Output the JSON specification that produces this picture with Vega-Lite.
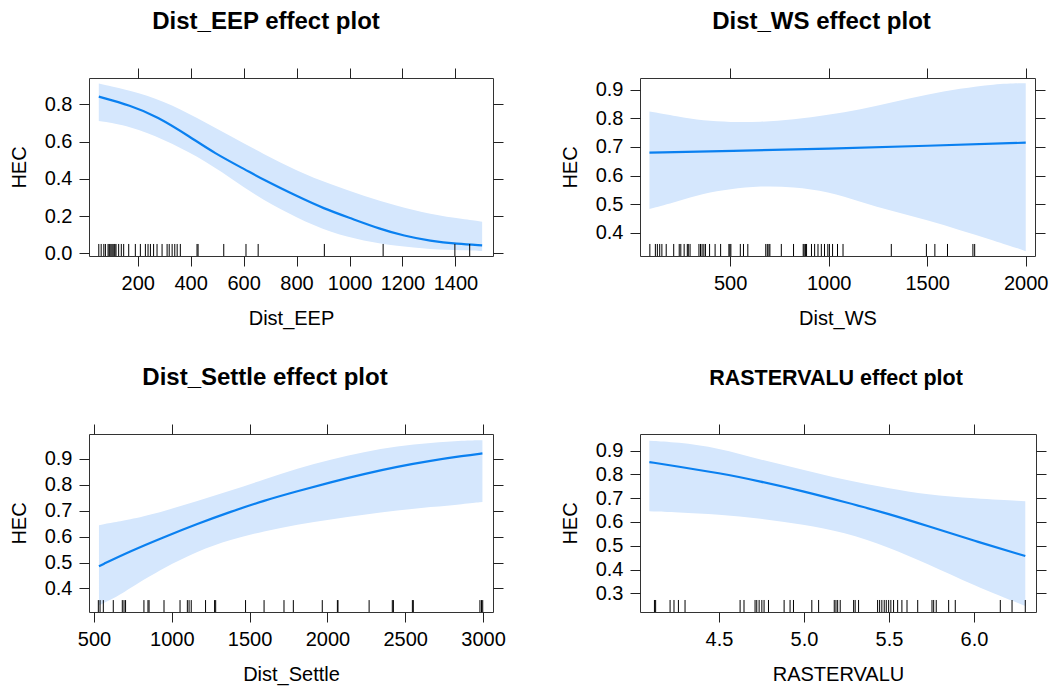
{
  "$schema": "https://vega.github.io/schema/vega-lite/v6.json",
  "padding": {"left": 8, "top": 9, "right": 5, "bottom": 5},
  "columns": 2,
  "spacing": {"row": 178, "column": 147},
  "bounds": "flush",
  "align": "each",
  "config": {
    "font": "Liberation Sans",
    "view": {"stroke": "#333333", "strokeWidth": 1},
    "axis": {
      "labelFont": "Liberation Sans", "labelFontSize": 20, "labelColor": "#000000",
      "titleFont": "Liberation Sans", "titleFontSize": 20, "titleFontWeight": "normal", "titleColor": "#000000",
      "tickColor": "#222222", "tickSize": 10, "tickWidth": 1,
      "domain": false, "grid": false, "labelPadding": 7, "titlePadding": 15,
      "labelFlush": false, "labelOverlap": false
    },
    "title": {"font": "Liberation Sans", "fontSize": 24, "fontWeight": "bold", "color": "#000000", "offset": 34}
  },
  "datasets": {
    "eep_band": [
      {"Dist_EEP": 53, "lower": 0.710, "upper": 0.911},
      {"Dist_EEP": 172, "lower": 0.683, "upper": 0.875},
      {"Dist_EEP": 298, "lower": 0.612, "upper": 0.818},
      {"Dist_EEP": 424, "lower": 0.522, "upper": 0.728},
      {"Dist_EEP": 550, "lower": 0.406, "upper": 0.630},
      {"Dist_EEP": 676, "lower": 0.281, "upper": 0.532},
      {"Dist_EEP": 802, "lower": 0.191, "upper": 0.442},
      {"Dist_EEP": 928, "lower": 0.111, "upper": 0.370},
      {"Dist_EEP": 1054, "lower": 0.066, "upper": 0.308},
      {"Dist_EEP": 1180, "lower": 0.039, "upper": 0.254},
      {"Dist_EEP": 1305, "lower": 0.021, "upper": 0.209},
      {"Dist_EEP": 1432, "lower": 0.016, "upper": 0.183},
      {"Dist_EEP": 1501, "lower": 0.012, "upper": 0.170}
    ],
    "eep_fit": [
      {"Dist_EEP": 53, "HEC": 0.841},
      {"Dist_EEP": 172, "HEC": 0.794},
      {"Dist_EEP": 273, "HEC": 0.735},
      {"Dist_EEP": 399, "HEC": 0.624},
      {"Dist_EEP": 487, "HEC": 0.540},
      {"Dist_EEP": 613, "HEC": 0.444},
      {"Dist_EEP": 676, "HEC": 0.394},
      {"Dist_EEP": 802, "HEC": 0.306},
      {"Dist_EEP": 903, "HEC": 0.240},
      {"Dist_EEP": 1003, "HEC": 0.189},
      {"Dist_EEP": 1116, "HEC": 0.130},
      {"Dist_EEP": 1205, "HEC": 0.094},
      {"Dist_EEP": 1305, "HEC": 0.066},
      {"Dist_EEP": 1406, "HEC": 0.050},
      {"Dist_EEP": 1501, "HEC": 0.043}
    ],
    "eep_rug": [
      {"Dist_EEP": 53}, {"Dist_EEP": 62}, {"Dist_EEP": 72}, {"Dist_EEP": 78}, {"Dist_EEP": 88},
      {"Dist_EEP": 92}, {"Dist_EEP": 95}, {"Dist_EEP": 99}, {"Dist_EEP": 103}, {"Dist_EEP": 107},
      {"Dist_EEP": 111}, {"Dist_EEP": 114}, {"Dist_EEP": 118}, {"Dist_EEP": 128}, {"Dist_EEP": 138},
      {"Dist_EEP": 147}, {"Dist_EEP": 166}, {"Dist_EEP": 191}, {"Dist_EEP": 210}, {"Dist_EEP": 229},
      {"Dist_EEP": 239}, {"Dist_EEP": 248}, {"Dist_EEP": 260}, {"Dist_EEP": 273}, {"Dist_EEP": 292},
      {"Dist_EEP": 311}, {"Dist_EEP": 319}, {"Dist_EEP": 330}, {"Dist_EEP": 340}, {"Dist_EEP": 349},
      {"Dist_EEP": 361}, {"Dist_EEP": 424}, {"Dist_EEP": 428}, {"Dist_EEP": 525}, {"Dist_EEP": 609},
      {"Dist_EEP": 655}, {"Dist_EEP": 905}, {"Dist_EEP": 1127}, {"Dist_EEP": 1398}, {"Dist_EEP": 1454}
    ],
    "ws_band": [
      {"Dist_WS": 91, "lower": 0.483, "upper": 0.824},
      {"Dist_WS": 230, "lower": 0.509, "upper": 0.807},
      {"Dist_WS": 365, "lower": 0.538, "upper": 0.791},
      {"Dist_WS": 500, "lower": 0.553, "upper": 0.787},
      {"Dist_WS": 652, "lower": 0.564, "upper": 0.787},
      {"Dist_WS": 822, "lower": 0.561, "upper": 0.795},
      {"Dist_WS": 999, "lower": 0.544, "upper": 0.812},
      {"Dist_WS": 1160, "lower": 0.509, "upper": 0.830},
      {"Dist_WS": 1329, "lower": 0.474, "upper": 0.857},
      {"Dist_WS": 1500, "lower": 0.445, "upper": 0.883},
      {"Dist_WS": 1667, "lower": 0.409, "upper": 0.904},
      {"Dist_WS": 1836, "lower": 0.374, "upper": 0.920},
      {"Dist_WS": 2000, "lower": 0.336, "upper": 0.923}
    ],
    "ws_fit": [
      {"Dist_WS": 91, "HEC": 0.680},
      {"Dist_WS": 500, "HEC": 0.686},
      {"Dist_WS": 1000, "HEC": 0.694},
      {"Dist_WS": 1500, "HEC": 0.704},
      {"Dist_WS": 2000, "HEC": 0.715}
    ],
    "ws_rug": [
      {"Dist_WS": 93}, {"Dist_WS": 121}, {"Dist_WS": 131}, {"Dist_WS": 143}, {"Dist_WS": 154},
      {"Dist_WS": 176}, {"Dist_WS": 214}, {"Dist_WS": 242}, {"Dist_WS": 250}, {"Dist_WS": 267},
      {"Dist_WS": 283}, {"Dist_WS": 288}, {"Dist_WS": 297}, {"Dist_WS": 342}, {"Dist_WS": 350},
      {"Dist_WS": 358}, {"Dist_WS": 367}, {"Dist_WS": 375}, {"Dist_WS": 396}, {"Dist_WS": 424},
      {"Dist_WS": 452}, {"Dist_WS": 494}, {"Dist_WS": 499}, {"Dist_WS": 504}, {"Dist_WS": 552},
      {"Dist_WS": 568}, {"Dist_WS": 590}, {"Dist_WS": 681}, {"Dist_WS": 689}, {"Dist_WS": 697},
      {"Dist_WS": 702}, {"Dist_WS": 760}, {"Dist_WS": 822}, {"Dist_WS": 871}, {"Dist_WS": 876},
      {"Dist_WS": 883}, {"Dist_WS": 888}, {"Dist_WS": 913}, {"Dist_WS": 929}, {"Dist_WS": 946},
      {"Dist_WS": 963}, {"Dist_WS": 979}, {"Dist_WS": 996}, {"Dist_WS": 1004}, {"Dist_WS": 1020},
      {"Dist_WS": 1045}, {"Dist_WS": 1073}, {"Dist_WS": 1318}, {"Dist_WS": 1496}, {"Dist_WS": 1539},
      {"Dist_WS": 1603}, {"Dist_WS": 1732}, {"Dist_WS": 1741}
    ],
    "settle_band": [
      {"Dist_Settle": 532, "lower": 0.335, "upper": 0.644},
      {"Dist_Settle": 629, "lower": 0.361, "upper": 0.655},
      {"Dist_Settle": 735, "lower": 0.403, "upper": 0.666},
      {"Dist_Settle": 950, "lower": 0.480, "upper": 0.698},
      {"Dist_Settle": 1164, "lower": 0.544, "upper": 0.737},
      {"Dist_Settle": 1378, "lower": 0.589, "upper": 0.778},
      {"Dist_Settle": 1593, "lower": 0.621, "upper": 0.820},
      {"Dist_Settle": 1807, "lower": 0.647, "upper": 0.863},
      {"Dist_Settle": 2021, "lower": 0.666, "upper": 0.897},
      {"Dist_Settle": 2235, "lower": 0.685, "upper": 0.927},
      {"Dist_Settle": 2449, "lower": 0.701, "upper": 0.949},
      {"Dist_Settle": 2663, "lower": 0.714, "upper": 0.962},
      {"Dist_Settle": 2878, "lower": 0.726, "upper": 0.971},
      {"Dist_Settle": 2996, "lower": 0.734, "upper": 0.972}
    ],
    "settle_fit": [
      {"Dist_Settle": 532, "HEC": 0.486},
      {"Dist_Settle": 735, "HEC": 0.544},
      {"Dist_Settle": 950, "HEC": 0.598},
      {"Dist_Settle": 1164, "HEC": 0.649},
      {"Dist_Settle": 1378, "HEC": 0.696},
      {"Dist_Settle": 1593, "HEC": 0.739},
      {"Dist_Settle": 1807, "HEC": 0.775},
      {"Dist_Settle": 2021, "HEC": 0.810},
      {"Dist_Settle": 2235, "HEC": 0.842},
      {"Dist_Settle": 2449, "HEC": 0.870},
      {"Dist_Settle": 2663, "HEC": 0.893},
      {"Dist_Settle": 2878, "HEC": 0.912},
      {"Dist_Settle": 2996, "HEC": 0.921}
    ],
    "settle_rug": [
      {"Dist_Settle": 528}, {"Dist_Settle": 539}, {"Dist_Settle": 560}, {"Dist_Settle": 624},
      {"Dist_Settle": 682}, {"Dist_Settle": 693}, {"Dist_Settle": 703}, {"Dist_Settle": 821},
      {"Dist_Settle": 847}, {"Dist_Settle": 854}, {"Dist_Settle": 950}, {"Dist_Settle": 1053},
      {"Dist_Settle": 1100}, {"Dist_Settle": 1111}, {"Dist_Settle": 1125}, {"Dist_Settle": 1217},
      {"Dist_Settle": 1275}, {"Dist_Settle": 1282}, {"Dist_Settle": 1474}, {"Dist_Settle": 1593},
      {"Dist_Settle": 1721}, {"Dist_Settle": 1781}, {"Dist_Settle": 1967}, {"Dist_Settle": 2064},
      {"Dist_Settle": 2068}, {"Dist_Settle": 2268}, {"Dist_Settle": 2417}, {"Dist_Settle": 2424},
      {"Dist_Settle": 2546}, {"Dist_Settle": 2552}, {"Dist_Settle": 2980}, {"Dist_Settle": 2990},
      {"Dist_Settle": 2998}
    ],
    "raster_band": [
      {"RASTERVALU": 4.090, "lower": 0.645, "upper": 0.942},
      {"RASTERVALU": 4.251, "lower": 0.641, "upper": 0.936},
      {"RASTERVALU": 4.500, "lower": 0.632, "upper": 0.911},
      {"RASTERVALU": 4.742, "lower": 0.615, "upper": 0.862},
      {"RASTERVALU": 4.997, "lower": 0.590, "upper": 0.820},
      {"RASTERVALU": 5.233, "lower": 0.558, "upper": 0.778},
      {"RASTERVALU": 5.501, "lower": 0.494, "upper": 0.741},
      {"RASTERVALU": 5.723, "lower": 0.425, "upper": 0.715},
      {"RASTERVALU": 6.000, "lower": 0.333, "upper": 0.699},
      {"RASTERVALU": 6.302, "lower": 0.247, "upper": 0.687}
    ],
    "raster_fit": [
      {"RASTERVALU": 4.090, "HEC": 0.852},
      {"RASTERVALU": 4.251, "HEC": 0.834},
      {"RASTERVALU": 4.500, "HEC": 0.806},
      {"RASTERVALU": 4.742, "HEC": 0.771},
      {"RASTERVALU": 4.997, "HEC": 0.729},
      {"RASTERVALU": 5.233, "HEC": 0.685},
      {"RASTERVALU": 5.501, "HEC": 0.634},
      {"RASTERVALU": 5.723, "HEC": 0.584},
      {"RASTERVALU": 6.000, "HEC": 0.521},
      {"RASTERVALU": 6.302, "HEC": 0.457}
    ],
    "raster_rug": [
      {"RASTERVALU": 4.120}, {"RASTERVALU": 4.127}, {"RASTERVALU": 4.212}, {"RASTERVALU": 4.235},
      {"RASTERVALU": 4.261}, {"RASTERVALU": 4.300}, {"RASTERVALU": 4.624}, {"RASTERVALU": 4.647},
      {"RASTERVALU": 4.712}, {"RASTERVALU": 4.722}, {"RASTERVALU": 4.736}, {"RASTERVALU": 4.752},
      {"RASTERVALU": 4.765}, {"RASTERVALU": 4.791}, {"RASTERVALU": 4.883}, {"RASTERVALU": 4.918},
      {"RASTERVALU": 4.938}, {"RASTERVALU": 5.046}, {"RASTERVALU": 5.086}, {"RASTERVALU": 5.178},
      {"RASTERVALU": 5.188}, {"RASTERVALU": 5.198}, {"RASTERVALU": 5.213}, {"RASTERVALU": 5.292},
      {"RASTERVALU": 5.301}, {"RASTERVALU": 5.321}, {"RASTERVALU": 5.433}, {"RASTERVALU": 5.445},
      {"RASTERVALU": 5.458}, {"RASTERVALU": 5.472}, {"RASTERVALU": 5.484}, {"RASTERVALU": 5.498},
      {"RASTERVALU": 5.511}, {"RASTERVALU": 5.527}, {"RASTERVALU": 5.551}, {"RASTERVALU": 5.576},
      {"RASTERVALU": 5.606}, {"RASTERVALU": 5.669}, {"RASTERVALU": 5.753}, {"RASTERVALU": 5.763},
      {"RASTERVALU": 5.778}, {"RASTERVALU": 5.851}, {"RASTERVALU": 5.890}, {"RASTERVALU": 6.155},
      {"RASTERVALU": 6.224}, {"RASTERVALU": 6.302}
    ]
  },
  "concat": [
    {
      "width": 404, "height": 178,
      "title": {"text": "Dist_EEP effect plot", "dx": -25},
      "layer": [
        {
          "data": {"name": "eep_band"},
          "mark": {"type": "area", "color": "#d5e7fd", "clip": true, "interpolate": "basis"},
          "encoding": {
            "x": {"field": "Dist_EEP", "type": "quantitative", "scale": {"domain": [16, 1542], "nice": false, "zero": false},
                  "axis": {"values": [200, 400, 600, 800, 1000, 1200, 1400], "format": "d", "title": "Dist_EEP"}},
            "y": {"field": "upper", "type": "quantitative", "scale": {"domain": [-0.0145, 0.941], "nice": false, "zero": false},
                  "axis": {"values": [0, 0.2, 0.4, 0.6, 0.8], "format": ".1f", "title": "HEC"}},
            "y2": {"field": "lower"}
          }
        },
        {
          "data": {"name": "eep_fit"},
          "mark": {"type": "line", "color": "#0a80f0", "strokeWidth": 2.2, "interpolate": "basis", "clip": true},
          "encoding": {
            "x": {"field": "Dist_EEP", "type": "quantitative", "axis": null},
            "y": {"field": "HEC", "type": "quantitative", "axis": null}
          }
        },
        {
          "data": {"name": "eep_rug"},
          "mark": {"type": "rule", "color": "#000000", "strokeWidth": 1},
          "encoding": {
            "x": {"field": "Dist_EEP", "type": "quantitative",
                  "axis": {"orient": "top", "labels": false, "title": null, "values": [200, 400, 600, 800, 1000, 1200, 1400]}},
            "y": {"datum": -0.0145, "type": "quantitative",
                  "axis": {"orient": "right", "labels": false, "title": null, "values": [0, 0.2, 0.4, 0.6, 0.8]}},
            "y2": {"datum": 0.05}
          }
        }
      ],
      "resolve": {"axis": {"x": "independent", "y": "independent"}}
    },
    {
      "width": 395, "height": 178,
      "title": {"text": "Dist_WS effect plot", "dx": -16},
      "layer": [
        {
          "data": {"name": "ws_band"},
          "mark": {"type": "area", "color": "#d5e7fd", "clip": true, "interpolate": "basis"},
          "encoding": {
            "x": {"field": "Dist_WS", "type": "quantitative", "scale": {"domain": [43, 2047], "nice": false, "zero": false},
                  "axis": {"values": [500, 1000, 1500, 2000], "format": "d", "title": "Dist_WS"}},
            "y": {"field": "upper", "type": "quantitative", "scale": {"domain": [0.319, 0.941], "nice": false, "zero": false},
                  "axis": {"values": [0.4, 0.5, 0.6, 0.7, 0.8, 0.9], "format": ".1f", "title": "HEC"}},
            "y2": {"field": "lower"}
          }
        },
        {
          "data": {"name": "ws_fit"},
          "mark": {"type": "line", "color": "#0a80f0", "strokeWidth": 2.2, "interpolate": "basis", "clip": true},
          "encoding": {
            "x": {"field": "Dist_WS", "type": "quantitative", "axis": null},
            "y": {"field": "HEC", "type": "quantitative", "axis": null}
          }
        },
        {
          "data": {"name": "ws_rug"},
          "mark": {"type": "rule", "color": "#000000", "strokeWidth": 1},
          "encoding": {
            "x": {"field": "Dist_WS", "type": "quantitative",
                  "axis": {"orient": "top", "labels": false, "title": null, "values": [500, 1000, 1500, 2000]}},
            "y": {"datum": 0.319, "type": "quantitative",
                  "axis": {"orient": "right", "labels": false, "title": null, "values": [0.4, 0.5, 0.6, 0.7, 0.8, 0.9]}},
            "y2": {"datum": 0.361}
          }
        }
      ],
      "resolve": {"axis": {"x": "independent", "y": "independent"}}
    },
    {
      "width": 404, "height": 178,
      "title": {"text": "Dist_Settle effect plot", "dx": -26},
      "layer": [
        {
          "data": {"name": "settle_band"},
          "mark": {"type": "area", "color": "#d5e7fd", "clip": true, "interpolate": "basis"},
          "encoding": {
            "x": {"field": "Dist_Settle", "type": "quantitative", "scale": {"domain": [468, 3064], "nice": false, "zero": false},
                  "axis": {"values": [500, 1000, 1500, 2000, 2500, 3000], "format": "d", "title": "Dist_Settle"}},
            "y": {"field": "upper", "type": "quantitative", "scale": {"domain": [0.309, 0.996], "nice": false, "zero": false},
                  "axis": {"values": [0.4, 0.5, 0.6, 0.7, 0.8, 0.9], "format": ".1f", "title": "HEC"}},
            "y2": {"field": "lower"}
          }
        },
        {
          "data": {"name": "settle_fit"},
          "mark": {"type": "line", "color": "#0a80f0", "strokeWidth": 2.2, "interpolate": "basis", "clip": true},
          "encoding": {
            "x": {"field": "Dist_Settle", "type": "quantitative", "axis": null},
            "y": {"field": "HEC", "type": "quantitative", "axis": null}
          }
        },
        {
          "data": {"name": "settle_rug"},
          "mark": {"type": "rule", "color": "#000000", "strokeWidth": 1},
          "encoding": {
            "x": {"field": "Dist_Settle", "type": "quantitative",
                  "axis": {"orient": "top", "labels": false, "title": null, "values": [500, 1000, 1500, 2000, 2500, 3000]}},
            "y": {"datum": 0.309, "type": "quantitative",
                  "axis": {"orient": "right", "labels": false, "title": null, "values": [0.4, 0.5, 0.6, 0.7, 0.8, 0.9]}},
            "y2": {"datum": 0.355}
          }
        }
      ],
      "resolve": {"axis": {"x": "independent", "y": "independent"}}
    },
    {
      "width": 396, "height": 178,
      "title": {"text": "RASTERVALU effect plot", "dx": -2, "fontSize": 21.5},
      "layer": [
        {
          "data": {"name": "raster_band"},
          "mark": {"type": "area", "color": "#d5e7fd", "clip": true, "interpolate": "basis"},
          "encoding": {
            "x": {"field": "RASTERVALU", "type": "quantitative", "scale": {"domain": [4.035, 6.365], "nice": false, "zero": false},
                  "axis": {"values": [4.5, 5.0, 5.5, 6.0], "format": ".1f", "title": "RASTERVALU"}},
            "y": {"field": "upper", "type": "quantitative", "scale": {"domain": [0.2215, 0.97], "nice": false, "zero": false},
                  "axis": {"values": [0.3, 0.4, 0.5, 0.6, 0.7, 0.8, 0.9], "format": ".1f", "title": "HEC"}},
            "y2": {"field": "lower"}
          }
        },
        {
          "data": {"name": "raster_fit"},
          "mark": {"type": "line", "color": "#0a80f0", "strokeWidth": 2.2, "interpolate": "basis", "clip": true},
          "encoding": {
            "x": {"field": "RASTERVALU", "type": "quantitative", "axis": null},
            "y": {"field": "HEC", "type": "quantitative", "axis": null}
          }
        },
        {
          "data": {"name": "raster_rug"},
          "mark": {"type": "rule", "color": "#000000", "strokeWidth": 1},
          "encoding": {
            "x": {"field": "RASTERVALU", "type": "quantitative",
                  "axis": {"orient": "top", "labels": false, "title": null, "values": [4.5, 5.0, 5.5, 6.0]}},
            "y": {"datum": 0.2215, "type": "quantitative",
                  "axis": {"orient": "right", "labels": false, "title": null, "values": [0.3, 0.4, 0.5, 0.6, 0.7, 0.8, 0.9]}},
            "y2": {"datum": 0.272}
          }
        }
      ],
      "resolve": {"axis": {"x": "independent", "y": "independent"}}
    }
  ]
}
